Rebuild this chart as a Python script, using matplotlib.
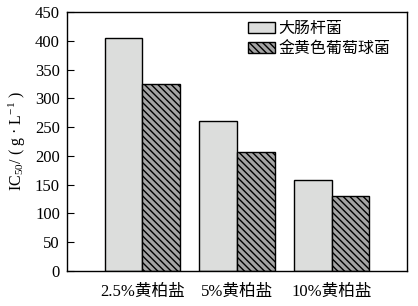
import numpy as np
import matplotlib
matplotlib.use('Agg')
import matplotlib.pyplot as plt

plt.rcParams['font.family'] = ['Liberation Serif', 'Noto Sans CJK SC']
plt.rcParams['mathtext.fontset'] = 'custom'
plt.rcParams['mathtext.rm'] = 'Liberation Serif'
plt.rcParams['mathtext.it'] = 'Liberation Serif:italic'
plt.rcParams['hatch.linewidth'] = 1.0

groups = ['2.5%黄柏盐', '5%黄柏盐', '10%黄柏盐']
series_names = ['大肠杆菌', '金黄色葡萄球菌']
ecoli = [405, 260, 158]
saureus = [325, 207, 131]
yticks = [0, 50, 100, 150, 200, 250, 300, 350, 400, 450]

fig = plt.figure(figsize=(4.18, 3.06), dpi=100)
ax = fig.add_axes([0.160, 0.1144, 0.814, 0.8466])

x = np.arange(len(groups))
w = 0.4
ax.bar(x - w / 2, ecoli, w, color='#dcdddc', edgecolor='black', linewidth=1.0,
       label=series_names[0])
ax.bar(x + w / 2, saureus, w, color='#a4a4a4', edgecolor='black', linewidth=1.0,
       hatch='\\' * 5, label=series_names[1])

ax.set_xlim(-0.8, 2.8)
ax.set_ylim(0, 450)
ax.set_yticks(yticks)
ax.set_xticks(x)
ax.set_xticklabels(groups, fontsize=12)
ax.tick_params(axis='y', direction='in', length=5, labelsize=12, pad=5)
ax.tick_params(axis='x', length=0, pad=9)
for s in ax.spines.values():
    s.set_linewidth(1.0)

ax.set_ylabel('IC$_{50}$/ ( g · L$^{-1}$ )', fontsize=11.5, labelpad=5)

ax.legend(loc='upper left', bbox_to_anchor=(0.532, 0.965), frameon=False,
          fontsize=11.5, handlelength=1.7, handleheight=0.65, handletextpad=0.2,
          labelspacing=0.25, borderaxespad=0, borderpad=0)

fig.savefig('out.png', dpi=100)
